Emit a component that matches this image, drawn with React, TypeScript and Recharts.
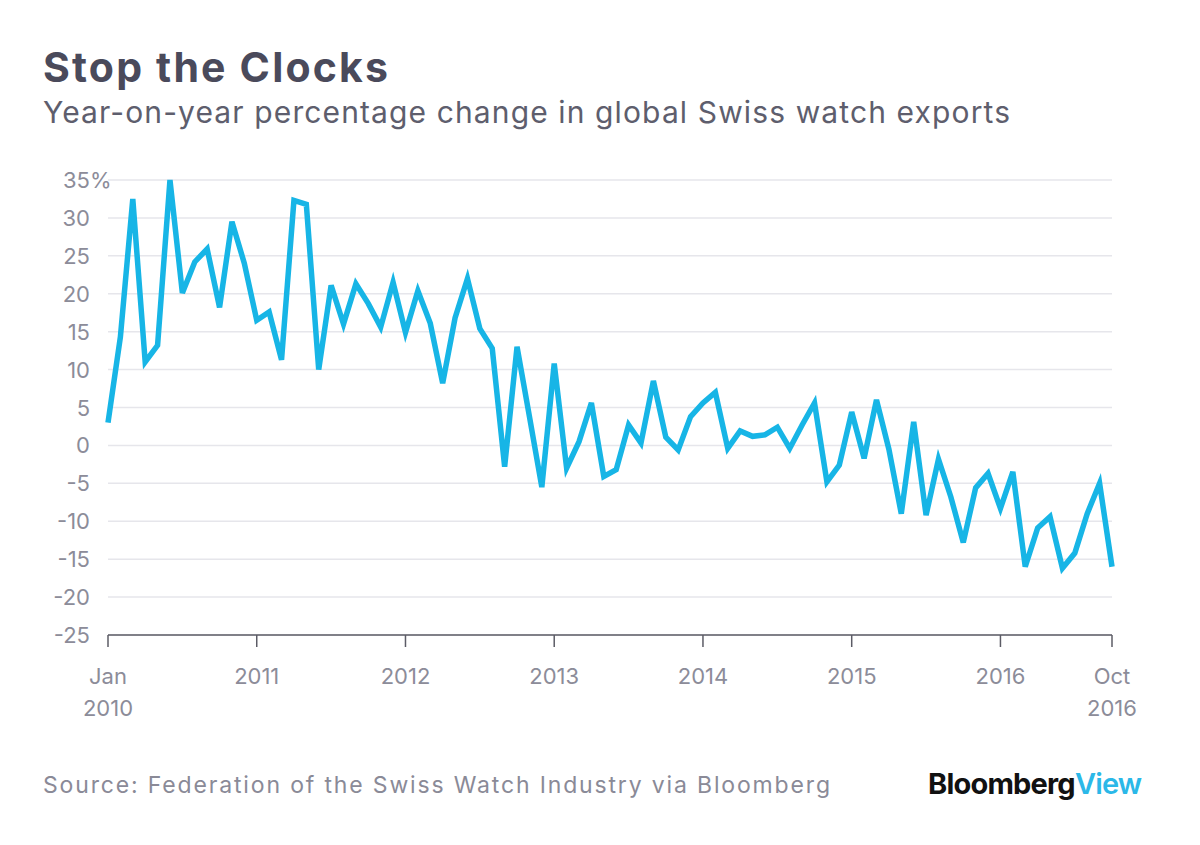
import React from 'react';
import { LineChart, Line, XAxis, YAxis, CartesianGrid } from 'recharts';

// Year-on-year % change in Swiss watch exports, monthly Jan 2010 .. Oct 2016
const values: number[] = [
  3, 14.3, 32.5, 11.0, 13.2, 35.0, 20.1, 24.2, 25.9, 18.2, 29.5, 24.0,
  16.5, 17.6, 11.3, 32.3, 31.8, 10.0, 21.1, 16.0, 21.3, 18.7, 15.6, 21.5,
  14.9, 20.4, 16.1, 8.2, 16.8, 22.0, 15.4, 12.8, -2.8, 13.0, 3.8, -5.5,
  10.8, -3.0, 0.5, 5.6, -4.1, -3.2, 2.7, 0.3, 8.5, 1.1, -0.6, 3.8,
  5.6, 7.0, -0.4, 1.9, 1.2, 1.4, 2.4, -0.4, 2.7, 5.6, -4.8, -2.6,
  4.4, -1.7, 6.0, -0.5, -9.0, 3.1, -9.2, -1.8, -6.8, -12.8, -5.6, -3.7,
  -8.3, -3.5, -16.0, -10.9, -9.4, -16.2, -14.2, -9.0, -5.0, -16.0,
];

const xTickIndex: number[] = [0, 12, 24, 36, 48, 60, 72, 81];
const xTickLine1: string[] = ['Jan', '2011', '2012', '2013', '2014', '2015', '2016', 'Oct'];
const xTickLine2: string[] = ['2010', '', '', '', '', '', '', '2016'];
const yTicks: number[] = [-25, -20, -15, -10, -5, 0, 5, 10, 15, 20, 25, 30, 35];

const data = values.map((v, i) => ({ i, v }));

const FONT = 'Inter, "Noto Sans", sans-serif';
const TICK_COLOR = '#8c8c99';

const YTick = (props: any) => {
  const { y, payload } = props;
  const val = payload.value;
  return (
    <g>
      <text x={90} y={y} dy={8} textAnchor="end" fontFamily={FONT} fontSize={22} fill={TICK_COLOR}>
        {val}
      </text>
      {val === 35 ? (
        <text x={90} y={y} dy={8} textAnchor="start" fontFamily={FONT} fontSize={22} fill={TICK_COLOR}>
          %
        </text>
      ) : null}
    </g>
  );
};

const XTick = (props: any) => {
  const { x, payload } = props;
  const idx = xTickIndex.indexOf(payload.value);
  return (
    <g>
      <text x={x} y={684} textAnchor="middle" fontFamily={FONT} fontSize={22} fill={TICK_COLOR}>
        {xTickLine1[idx]}
      </text>
      {xTickLine2[idx] ? (
        <text x={x} y={716} textAnchor="middle" fontFamily={FONT} fontSize={22} fill={TICK_COLOR}>
          {xTickLine2[idx]}
        </text>
      ) : null}
    </g>
  );
};

export default function App() {
  return (
    <div style={{ position: 'absolute', left: 0, top: 0, width: 1200, height: 845, background: '#fff' }}>
      <LineChart
        width={1200}
        height={845}
        data={data}
        margin={{ top: 180, right: 88, bottom: 110, left: 0 }}
      >
        <CartesianGrid horizontal vertical={false} stroke="#e6e6eb" strokeWidth={1.5} />
        <XAxis
          dataKey="i"
          type="number"
          domain={[0, 81]}
          ticks={xTickIndex}
          interval={0}
          height={100}
          axisLine={{ stroke: '#5c5c66', strokeWidth: 1.5 }}
          tickLine={{ stroke: '#5c5c66', strokeWidth: 1.5 }}
          tickSize={12}
          tick={<XTick />}
        />
        <YAxis
          type="number"
          domain={[-25, 35]}
          ticks={yTicks}
          interval={0}
          width={108}
          axisLine={false}
          tickLine={false}
          tick={<YTick />}
        />
        <Line
          type="linear"
          dataKey="v"
          stroke="#17b5e6"
          strokeWidth={5.5}
          dot={false}
          strokeLinejoin="miter"
          isAnimationActive={false}
        />
      </LineChart>
      <svg width={1200} height={845} style={{ position: 'absolute', left: 0, top: 0, pointerEvents: 'none' }}>
        <text x={43} y={82} fontFamily={FONT} fontWeight={700} fontSize={41} fill="#4a4a5b" textLength={345} lengthAdjust="spacing">
          Stop the Clocks
        </text>
        <text x={43} y={123} fontFamily={FONT} fontSize={30} fill="#5e5e6d" textLength={967} lengthAdjust="spacing">
          Year-on-year percentage change in global Swiss watch exports
        </text>
        <text x={43} y={793} fontFamily={FONT} fontSize={23} fill="#8a8a97" textLength={787} lengthAdjust="spacing">
          Source: Federation of the Swiss Watch Industry via Bloomberg
        </text>
        <text x={928} y={794} fontFamily={FONT} fontSize={29} fontWeight={700} letterSpacing={-0.8}>
          <tspan fill="#111111">Bloomberg</tspan>
          <tspan fill="#2bb8e8" fontWeight={600}>View</tspan>
        </text>
      </svg>
    </div>
  );
}
